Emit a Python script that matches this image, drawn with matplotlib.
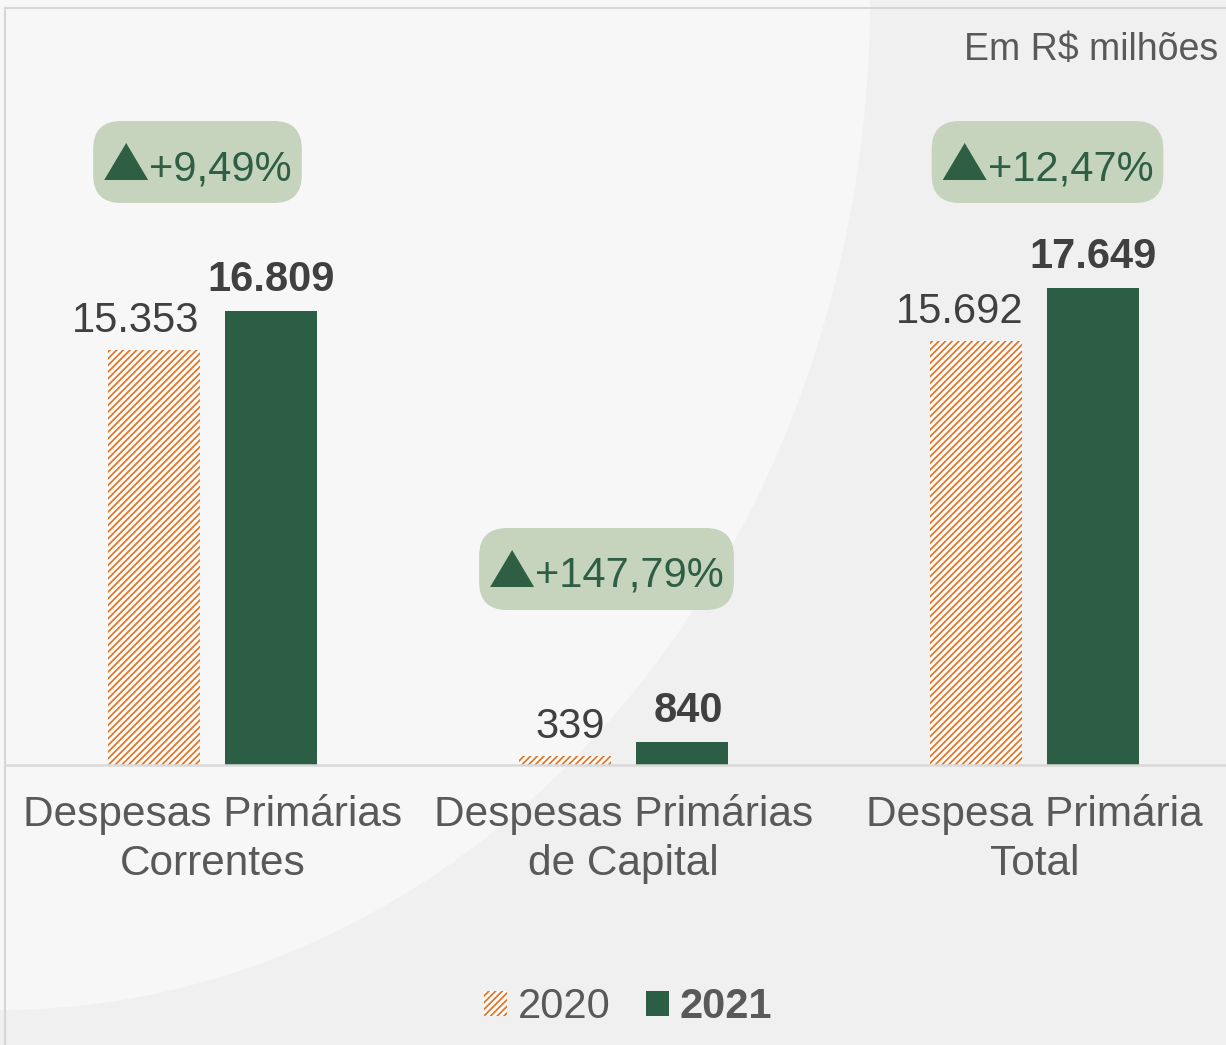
import matplotlib
matplotlib.use("Agg")
import matplotlib.pyplot as plt
import numpy as np
from matplotlib.patches import FancyBboxPatch, Ellipse, Patch, Polygon
from matplotlib.lines import Line2D

# ---------------- data ----------------
categories = ["Despesas Primárias\nCorrentes", "Despesas Primárias\nde Capital", "Despesa Primária\nTotal"]
values_2020 = [15353, 339, 15692]
values_2021 = [16809, 840, 17649]
labels_2020 = ["15.353", "339", "15.692"]
labels_2021 = ["16.809", "840", "17.649"]
variations = ["+9,49%", "+147,79%", "+12,47%"]
series_names = ["2020", "2021"]
unit_note = "Em R$ milhões"

# ---------------- style ----------------
W, H, DPI = 1226, 1045, 100
FONT = ["Liberation Sans", "DejaVu Sans"]
plt.rcParams["font.family"] = FONT
plt.rcParams["hatch.linewidth"] = 1.3
ORANGE = "#e2762a"
GREEN = "#2b5e45"
BADGE_BG = "#c6d4bd"
BADGE_TXT = "#2e5f45"
VAL_COL = "#404040"
CAT_COL = "#595959"
FS = 30
HATCH = "/////"

fig = plt.figure(figsize=(W / DPI, H / DPI), dpi=DPI, facecolor="#f0f0f0")

# background shapes
fig.patches.append(Ellipse((0, 1), width=2 * 870 / W, height=2 * 1010 / H,
                           transform=fig.transFigure, facecolor="#f7f7f7",
                           edgecolor="none", zorder=-10))
fig.lines.append(Line2D([5 / W, 5 / W], [0, 1 - 8 / H], transform=fig.transFigure,
                        color="#d6d6d6", lw=1.5, zorder=-5))
fig.lines.append(Line2D([5 / W, 1], [1 - 8 / H, 1 - 8 / H], transform=fig.transFigure,
                        color="#d6d6d6", lw=1.5, zorder=-5))

base_px = 765
ax = fig.add_axes([5 / W, (H - base_px) / H, 1 - 5 / W, base_px / H])
ax.set_facecolor("none")
px_per_unit = 0.02702
ax.set_ylim(0, base_px / px_per_unit)
spacing = 411.0
c0 = 212.5 - 5
ax.set_xlim(-c0 / spacing, (W - 5 - c0) / spacing)

x = np.arange(len(categories))
bw = 92 / spacing
off = 117 / 2 / spacing

ax.bar(x - off, values_2020, bw, facecolor="white", edgecolor=ORANGE,
       hatch=HATCH, linewidth=0, zorder=2)
ax.bar(x + off, values_2021, bw, color=GREEN, linewidth=0, zorder=2)

for s in ["top", "left", "right"]:
    ax.spines[s].set_visible(False)
ax.spines["bottom"].set_color("#d9d9d9")
ax.spines["bottom"].set_linewidth(1.8)
ax.set_yticks([])
ax.set_xticks(x)
ax.set_xticklabels(categories, fontsize=30.5, color=CAT_COL, linespacing=1.3)
ax.tick_params(axis="x", length=0, pad=21)

# value labels
dx20 = [-18, 5, -16]
dx21 = [0, 6, 0]
for i in range(len(categories)):
    ax.annotate(labels_2020[i], (x[i] - off, values_2020[i]), xytext=(dx20[i], 18),
                textcoords="offset pixels", ha="center", va="baseline",
                fontsize=FS, color=VAL_COL)
    ax.annotate(labels_2021[i], (x[i] + off, values_2021[i]), xytext=(dx21[i], 20),
                textcoords="offset pixels", ha="center", va="baseline",
                fontsize=FS, color=VAL_COL, fontweight="bold")

# badges (centre in image pixels: y from top)
badge_cy = [162, 569, 162]
badge_dx = [-15, -17, 13]
tri_w, tri_h = 44, 37
fig.canvas.draw()
r = fig.canvas.get_renderer()
for i in range(len(categories)):
    cx = ax.transData.transform((x[i], 0))[0] + badge_dx[i]
    cy = H - badge_cy[i]
    base_y = cy - 18
    t = fig.text(0, 0, variations[i], fontsize=FS, color=BADGE_TXT,
                 ha="left", va="baseline", transform=None, zorder=5)
    tw = t.get_window_extent(r).width
    total = tri_w + tw
    left = cx - total / 2
    t.set_position((left + tri_w + 1, base_y))
    fig.patches.append(Polygon([[left, base_y], [left + tri_w, base_y],
                                [left + tri_w / 2, base_y + tri_h]], closed=True,
                               facecolor=BADGE_TXT, edgecolor="none",
                               transform=None, zorder=5))
    w = total + 22
    h = 82
    rad = 28
    fig.patches.append(FancyBboxPatch((cx - w / 2 + rad, cy - h / 2 + rad), w - 2 * rad, h - 2 * rad,
                                      boxstyle="round,pad=%d" % rad, facecolor=BADGE_BG,
                                      edgecolor="none", transform=None, zorder=4))

# unit note
fig.text(1 - 8 / W, 1 - 50 / H, unit_note, ha="right", va="center",
         fontsize=27, color=CAT_COL)

# legend
handles = [Patch(facecolor="white", edgecolor=ORANGE, hatch=HATCH, linewidth=0),
           Patch(facecolor=GREEN, edgecolor="none")]
leg = fig.legend(handles, series_names, loc="center", bbox_to_anchor=(628 / W, 1 - 1007 / H),
                 ncol=2, frameon=False, fontsize=FS, handlelength=0.55, handleheight=0.55,
                 handletextpad=0.25, columnspacing=0.85, labelcolor=CAT_COL)
leg.get_texts()[1].set_fontweight("bold")

fig.savefig("out.png", dpi=DPI, facecolor=fig.get_facecolor())
